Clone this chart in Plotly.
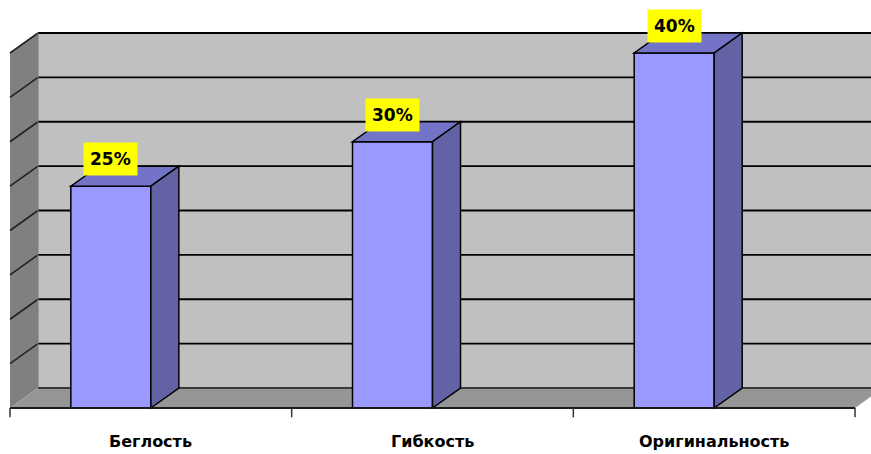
import plotly.graph_objects as go

# --- data ---
categories = ["Беглость", "Гибкость", "Оригинальность"]
values = [25, 30, 40]
value_labels = ["25%", "30%", "40%"]
grid_step = 5
grid_max = 40

# --- 3D look: depth offset of the box in axis units ---
W, H = 871, 454
px_per_cat = 281.67          # pixels per category slot
px_per_pct = 8.875           # pixels per percent
DX = 28 / px_per_cat         # depth shift along x
DY = 20 / px_per_pct         # depth shift along y
BAR_W = 0.284                # bar width in category units

x_lo = -10 / px_per_cat - 0.5
x_hi = (W - 10) / px_per_cat - 0.5
y_hi = 408 / px_per_pct
y_lo = -(H - 408) / px_per_pct

n = len(categories)
left, right = -0.5, n - 0.5


def poly(pts, fill, line="black", width=1.5, layer="below"):
    d = "M " + " L ".join(f"{x},{y}" for x, y in pts) + " Z"
    return dict(type="path", path=d, xref="x", yref="y", fillcolor=fill,
                line=dict(color=line, width=width), layer=layer)


def seg(x0, y0, x1, y1, color="black", width=1.5, layer="below"):
    return dict(type="line", x0=x0, y0=y0, x1=x1, y1=y1, xref="x", yref="y",
                line=dict(color=color, width=width), layer=layer)


shapes = []
# back wall
shapes.append(poly([(left + DX, DY), (x_hi + 0.2, DY), (x_hi + 0.2, grid_max + DY),
                    (left + DX, grid_max + DY)], "#C0C0C0", line="rgba(0,0,0,0)", width=0))
# left wall
shapes.append(poly([(left, 0), (left + DX, DY), (left + DX, grid_max + DY), (left, grid_max)],
                   "#808080", line="rgba(0,0,0,0)", width=0))
# floor
shapes.append(poly([(left, 0), (left + DX, DY), (right + DX, DY), (right, 0)],
                   "#969696", line="rgba(0,0,0,0)", width=0))

# gridlines on back wall and left wall
k = 0
while k * grid_step <= grid_max:
    v = k * grid_step
    color = "#3a3a3a" if k == 0 else "black"
    shapes.append(seg(left + DX, v + DY, x_hi + 0.2, v + DY, color=color, width=1.8))
    if k > 0:
        shapes.append(seg(left, v, left + DX, v + DY, color="#222222", width=1.6))
    k += 1
shapes.append(seg(left + DX, DY, left + DX, grid_max + DY, color="#7a7a7a", width=1))

# bars
for i, v in enumerate(values):
    x0, x1 = i - BAR_W, i
    # front
    shapes.append(poly([(x0, 0), (x1, 0), (x1, v), (x0, v)], "#9999FF", layer="above"))
    # top
    shapes.append(poly([(x0, v), (x1, v), (x1 + DX, v + DY), (x0 + DX, v + DY)],
                       "#7373C8", layer="above"))
    # side
    shapes.append(poly([(x1, 0), (x1 + DX, DY), (x1 + DX, v + DY), (x1, v)],
                       "#6262A4", layer="above"))

# front floor edge and category ticks
shapes.append(seg(left, 0, right, 0, color="#1a1a1a", width=2, layer="above"))
for t in range(n + 1):
    xt = left + t
    shapes.append(seg(xt, 0, xt, -1.05, color="#333333", width=1.5, layer="above"))

annotations = []
for i, (v, lab) in enumerate(zip(values, value_labels)):
    annotations.append(dict(
        x=i - BAR_W / 2, y=v + 3.05, xref="x", yref="y", text=f"<b>{lab}</b>",
        showarrow=False, bgcolor="#FFFF00", borderpad=6,
        font=dict(family="DejaVu Sans", size=17, color="black"),
    ))
for i, c in enumerate(categories):
    annotations.append(dict(
        x=i, y=-3.8, xref="x", yref="y", text=f"<b>{c}</b>", showarrow=False,
        font=dict(family="DejaVu Sans", size=16, color="black"),
    ))

fig = go.Figure()
fig.add_trace(go.Scatter(x=[x_lo, x_hi], y=[y_lo, y_hi], mode="markers",
                         marker=dict(opacity=0), hoverinfo="skip", showlegend=False))
fig.update_layout(
    width=W, height=H, margin=dict(l=0, r=0, t=0, b=0),
    paper_bgcolor="white", plot_bgcolor="white",
    xaxis=dict(range=[x_lo, x_hi], visible=False, fixedrange=True),
    yaxis=dict(range=[y_lo, y_hi], visible=False, fixedrange=True),
    shapes=shapes, annotations=annotations, showlegend=False,
)
fig.write_html("out.html")
